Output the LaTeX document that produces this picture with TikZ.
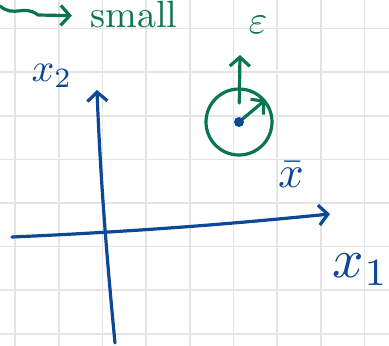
\documentclass[tikz,border=0pt]{standalone}
\usepackage{amsmath,amssymb}
\usetikzlibrary{arrows.meta,positioning}
\definecolor{ink}{RGB}{12,72,150}
\definecolor{pen}{RGB}{10,118,80}
\definecolor{paper}{RGB}{228,228,228}

\begin{document}
\begin{tikzpicture}[x=1pt, y=-1pt, line cap=round, line join=round,
  bl/.style={draw=ink, line width=3.2pt}, gr/.style={draw=pen, line width=3.2pt},
  arr/.style={-{Straight Barb[length=9pt, width=20pt, line width=3.2pt]}},
  lab/.style={inner sep=0pt}]
\useasboundingbox[fill=white] (0,0) rectangle (389,346);
% grid paper
\foreach \k in {0,...,8} \draw[paper, line width=1.6pt] (15+43.7*\k,0) -- (15+43.7*\k,346);
\foreach \k in {0,...,7} \draw[paper, line width=1.6pt] (0,28.5+43.6*\k) -- (389,28.5+43.6*\k);
% note at the top
\node[lab, text=pen, scale=3.8] (small) at (134,15) {small};
\coordinate (wave) at (0,6);
\draw[gr, arr, shorten >=18pt] (wave) .. controls (14,18) and (24,4) .. (38,15) -- (small.west |- 0,16);
% axes
\coordinate (xl) at (12,237); \coordinate (xr) at (330,214);
\coordinate (yb) at (115,343); \coordinate (yt) at (97,90);
\draw[bl, arr] (xl) .. controls (150,231) and (250,222) .. (xr);
\draw[bl, arr] (yb) .. controls (106,250) and (100,170) .. (yt);
\node[lab, text=ink, scale=4] (x2) at (52,76) {$x_2$};
\node[lab, text=ink, scale=5.5] (x1) at (361,270) {$x_1$};
% ball round the mean
\node[gr, circle, minimum size=66pt] (ball) at (239,122) {};
\node[lab, text=pen, scale=4] (eps) at (258,25) {$\varepsilon$};
\coordinate (tip) at (240,55);
\draw[gr, arr, shorten <=19pt] (ball.center) -- (tip);
\draw[gr, arr] (ball.center) -- (ball.40);
\fill[ink] (ball.center) circle (5pt);
\node[lab, text=ink, scale=4.5] (xbar) at (291,175) {$\bar{x}$};
\end{tikzpicture}
\end{document}
